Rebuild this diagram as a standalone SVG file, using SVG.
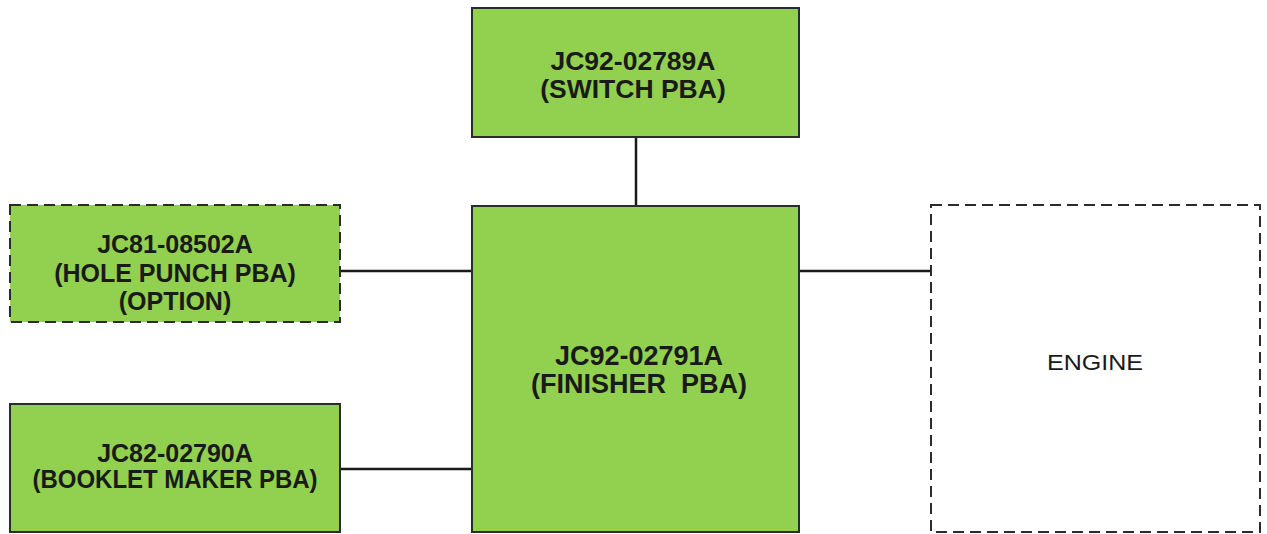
<svg xmlns="http://www.w3.org/2000/svg" width="1267" height="534" viewBox="0 0 1267 534">
<style>
.box{fill:#92d050;stroke:#2b2b2b;stroke-width:2}
.dash{stroke-dasharray:11 6}
.eng{fill:#ffffff;stroke:#2b2b2b;stroke-width:2}
.t{font-family:"Liberation Sans",Arial,sans-serif;font-weight:bold;fill:#1a1a1a;text-anchor:middle}
.e{font-family:"Liberation Sans",Arial,sans-serif;fill:#1a1a1a;text-anchor:middle}
.c{stroke:#1a1a1a;stroke-width:2.5;fill:none}
</style>
<rect width="1267" height="534" fill="#ffffff"/>
<g id="connectors">
<line class="c" x1="636" y1="137" x2="636" y2="206"/>
<line class="c" x1="340" y1="271" x2="472" y2="271"/>
<line class="c" x1="340" y1="469" x2="472" y2="469"/>
<line class="c" x1="799" y1="271" x2="931" y2="271"/>
</g>
<g id="switch">
<rect class="box" x="472" y="8" width="327" height="129"/>
<text class="t" x="633" y="70" font-size="26.5">JC92-02789A</text>
<text class="t" x="633" y="98" font-size="26.5">(SWITCH PBA)</text>
</g>
<g id="finisher">
<rect class="box" x="472" y="206" width="327" height="326"/>
<text class="t" x="639" y="365" font-size="27">JC92-02791A</text>
<text class="t" x="639" y="393" font-size="27" xml:space="preserve">(FINISHER  PBA)</text>
</g>
<g id="holepunch">
<rect class="box dash" x="10" y="205" width="330" height="117"/>
<text class="t" x="175" y="253" font-size="25">JC81-08502A</text>
<text class="t" x="175" y="282" font-size="25">(HOLE PUNCH PBA)</text>
<text class="t" x="175" y="310" font-size="25">(OPTION)</text>
</g>
<g id="booklet">
<rect class="box" x="10" y="404" width="330" height="128"/>
<text class="t" x="175" y="462" font-size="25">JC82-02790A</text>
<text class="t" x="175" y="488" font-size="25" textLength="285" lengthAdjust="spacingAndGlyphs">(BOOKLET MAKER PBA)</text>
</g>
<g id="engine">
<rect class="eng dash" x="931" y="205" width="329" height="327"/>
<text class="e" x="1095" y="370" font-size="22" textLength="96" lengthAdjust="spacingAndGlyphs">ENGINE</text>
</g>
</svg>
